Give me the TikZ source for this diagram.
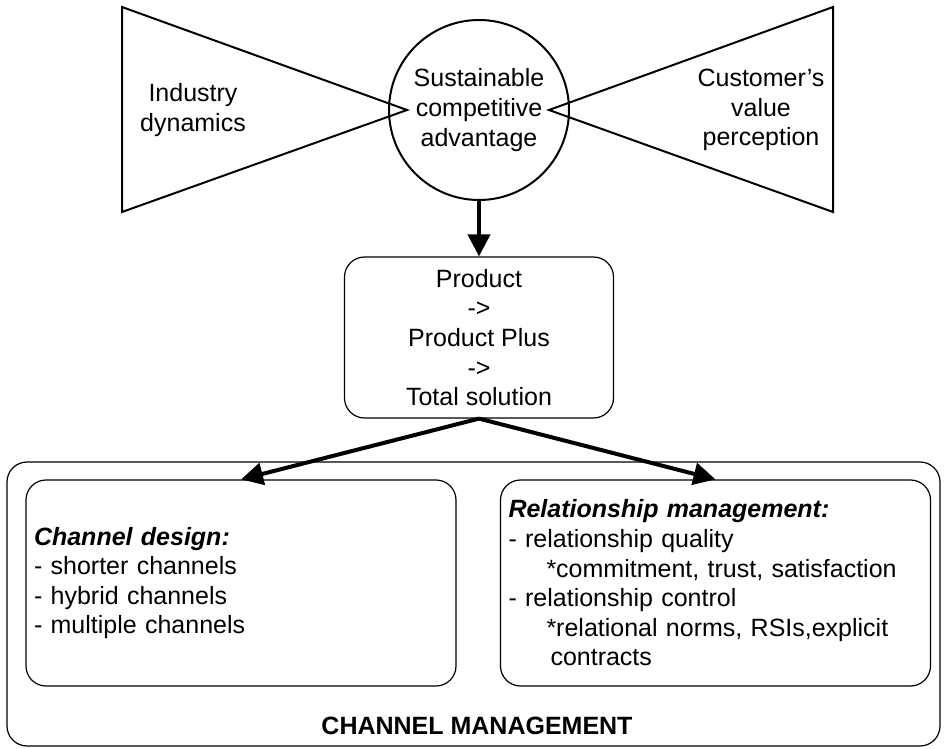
\documentclass[tikz,border=0pt]{standalone}
\usepackage{fontspec}
\setmainfont{Liberation Sans}
\usetikzlibrary{arrows.meta,shapes}

\begin{document}
\begin{tikzpicture}[x=0.5pt,y=-0.5pt,
            every node/.style={font=\fontsize{12.5}{14.8}\selectfont},
            wing/.style={draw,line width=1pt,line join=miter},
            box/.style={draw,rounded corners=10pt,line width=0.6pt},
            item/.style={box,minimum height=103pt,text width=207pt,inner xsep=4pt,align=left},
            flow/.style={-{Triangle[length=11pt,width=11pt]},line width=2pt}]
            \useasboundingbox (0,0) rectangle (944,749);
            \draw[wing] (122,7) -- (122,212) -- (407,110) -- cycle;
            \draw[wing] (833,7) -- (833,212) -- (549,110) -- cycle;
            \node[align=center] (industry) at (193,110) {Industry\\dynamics};
            \node[align=center] (customer) at (761,110) {Customer's\\value\\perception};
            \node[circle,draw,line width=1pt,minimum size=90pt,inner sep=0pt,align=center] (sca) at (479,110) {Sustainable\\competitive\\advantage};
            \node[box,minimum width=134.5pt,minimum height=80.5pt,align=center] (prod) at (479,337.5) {Product\\->\\Product Plus\\->\\Total solution};
            \node[box,minimum width=466.5pt,minimum height=142pt] (chm) at (473.5,604) {};
            \node[item] (design) at (241,583) {\textbf{\textit{Channel design:}}\\
                - shorter channels\\
                - hybrid channels\\
                - multiple channels};
            \node[item] (relation) at (715.5,583) {\textbf{\textit{Relationship management:}}\\
                - relationship quality\\
                \hspace*{19pt}*commitment, trust, satisfaction\\
                - relationship control\\
                \hspace*{19pt}*relational norms, RSIs,explicit\\
                \hspace*{21pt}contracts};
            \node (chmlabel) at (477,726) {\textbf{CHANNEL MANAGEMENT}};
            \draw[flow] (sca.south) -- (prod.north);
            \draw[flow] (prod.south) -- (design.north);
            \draw[flow] (prod.south) -- (relation.north);
        \end{tikzpicture}
\end{document}
